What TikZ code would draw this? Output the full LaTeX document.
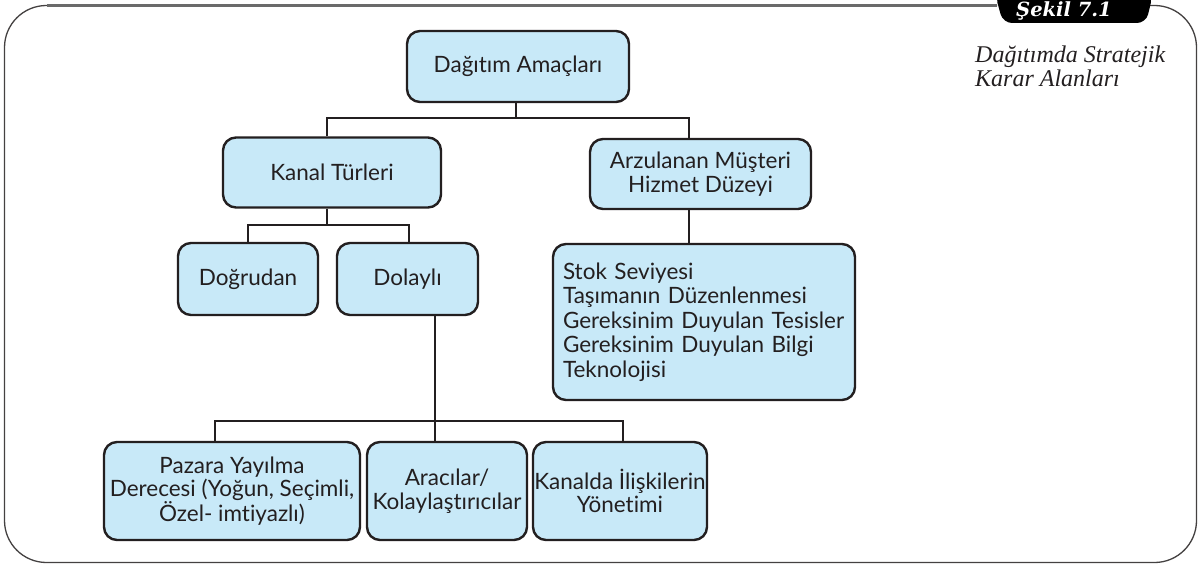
\documentclass[tikz,border=0pt]{standalone}
\usepackage{fontspec}
\setmainfont{Lato}[Ligatures=NoCommon]
\newfontfamily\capfont{Liberation Serif}
\newfontfamily\tabfont{DejaVu Serif}
\definecolor{boxfill}{HTML}{C8E9F8}
\definecolor{ink}{HTML}{231F20}
\definecolor{rulegray}{HTML}{6A6A6A}
\begin{document}
\begin{tikzpicture}[x=1pt,y=-1pt,
  box/.style={draw=ink, fill=boxfill, line width=2.4pt, rounded corners=13pt,
    inner sep=0pt, align=center, text=ink,
    font=\fontsize{22.5}{24}\selectfont},
  tight/.style={font=\fontsize{22.5}{23.5}\selectfont},
  conn/.style={draw=ink, line width=2.4pt},
  frameline/.style={draw=ink!85, line width=1.3pt},
  topline/.style={draw=rulegray, line width=2.2pt},
  captext/.style={text=ink, align=left, inner sep=0pt,
    font=\capfont\itshape\fontsize{24}{24}\selectfont},
  tabtext/.style={text=white, inner sep=0pt,
    font=\tabfont\bfseries\itshape\fontsize{19.5}{22}\selectfont}]
\useasboundingbox (0,0) rectangle (1202,564);
\fill[white] (0,0) rectangle (1202,564);

% outer frame
\draw[frameline, rounded corners=42pt]
  (1150,5.5) -- (1196.5,5.5) -- (1196.5,562.5) -- (4.5,562.5) -- (4.5,5.5) -- (997,5.5);
\draw[topline] (47,5.5) -- (997,5.5);

% figure tab
\fill[black, rounded corners=9pt]
  (995,-6) -- (1003,23) -- (1146,23) -- (1153,-6) -- cycle;
\node[tabtext, anchor=base] (tab) at (1064,17) {Şekil 7.1};

% caption (base anchor sits on the last line)
\node[captext, anchor=base west] (cap) at (975,87)
  {Dağıtımda Stratejik\\Karar Alanları};

% boxes
\node[box, minimum width=222pt, minimum height=71pt] (top) at (518,66.5) {Dağıtım Amaçları};
\node[box, minimum width=218pt, minimum height=70pt] (kanal) at (332,172.5) {Kanal Türleri};
\node[box, minimum width=221pt, minimum height=70pt] (arz) at (700.5,174) {Arzulanan Müşteri\\Hizmet Düzeyi};
\node[box, minimum width=140pt, minimum height=72pt] (dog) at (248,279) {Doğrudan};
\node[box, minimum width=141pt, minimum height=72pt] (dol) at (407.5,279) {Dolaylı};
\node[box, minimum width=302pt, minimum height=156pt, text width=282pt,
  inner xsep=10pt, align=left, font=\fontsize{22.5}{24.5}\selectfont] (stok) at (704,322)
  {Stok Seviyesi\\Taşımanın Düzenlenmesi\\Gereksinim Duyulan Tesisler\\Gereksinim Duyulan Bilgi\\Teknolojisi};
\node[box, tight, minimum width=256pt, minimum height=98pt] (paz) at (232,491)
  {Pazara Yayılma\\Derecesi (Yoğun, Seçimli,\\Özel- imtiyazlı)};
\node[box, tight, minimum width=160pt, minimum height=98pt] (ara) at (447,491)
  {Aracılar/\\Kolaylaştırıcılar};
\node[box, tight, minimum width=174pt, minimum height=98pt] (kan2) at (620,491)
  {Kanalda İlişkilerin\\Yönetimi};

% drop positions and bus junctions
\coordinate (xk) at (327,0);
\coordinate (xa) at (689,0);
\coordinate (xd) at (435,0);
\coordinate (b1) at (516,118);
\coordinate (b2) at (327,225);
\coordinate (b3) at (435,421);

% connectors
\draw[conn] (top.south -| b1) -- (b1);
\draw[conn] (kanal.north -| xk) |- (b1) -| (arz.north -| xa);
\draw[conn] (kanal.south -| xk) -- (b2);
\draw[conn] (dog.north) |- (b2) -| ([xshift=1.5pt]dol.north);
\draw[conn] (arz.south -| xa) -- (stok.north -| xa);
\draw[conn] (dol.south -| xd) -- (ara.north -| xd);
\draw[conn] ([xshift=-17pt]paz.north) |- (b3) -| ([xshift=3pt]kan2.north);
\end{tikzpicture}
\end{document}
